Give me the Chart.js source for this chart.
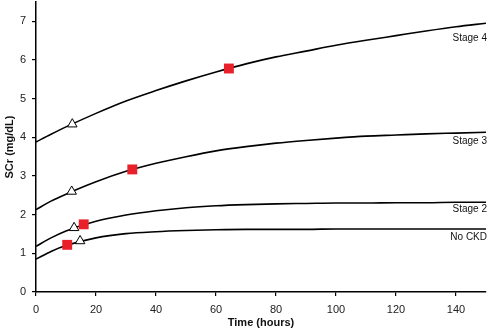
<!DOCTYPE html>
<html><head><meta charset="utf-8">
<script src="https://cdn.jsdelivr.net/npm/chart.js@4/dist/chart.umd.min.js"></script>
<style>html,body{margin:0;padding:0;background:#fff}canvas{display:block}</style>
</head><body>
<canvas id="c" width="492" height="330"></canvas>
<script>
const times = [0,5,10,20,30,40,50,60,70,80,90,100,110,120,130,140,150];
const stage4 = [3.88,4.08,4.27,4.62,4.94,5.21,5.46,5.69,5.90,6.08,6.23,6.38,6.51,6.63,6.75,6.86,6.95];
const stage3 = [2.13,2.35,2.53,2.85,3.12,3.33,3.50,3.65,3.76,3.85,3.92,3.98,4.03,4.06,4.09,4.11,4.13];
const stage2 = [1.18,1.40,1.58,1.83,1.99,2.10,2.18,2.23,2.26,2.28,2.29,2.30,2.30,2.31,2.31,2.32,2.32];
const noCKD  = [0.85,1.05,1.20,1.40,1.51,1.56,1.59,1.61,1.62,1.62,1.62,1.63,1.63,1.63,1.63,1.63,1.63];
const seriesNames = ["Stage 4","Stage 3","Stage 2","No CKD"];
const triangleT = [12.1,11.9,12.7,14.7];
const triangleV = [4.34,2.60,1.66,1.32];
const squareT = [64.3,32.1,15.9,10.4];
const squareV = [5.78,3.17,1.75,1.22];
const labelV = [6.56,3.90,2.14,1.42];
const yTicks = [0,1,2,3,4,5,6,7];
const xTicks = [0,20,40,60,80,100,120,140];

const curves = [stage4, stage3, stage2, noCKD];
const datasets = curves.map((arr,i)=>({
  type:'line', label: seriesNames[i],
  data: times.map((t,j)=>({x:t,y:arr[j]})),
  borderColor:'#000', borderWidth:1.6, pointRadius:0,
  cubicInterpolationMode:'monotone', fill:false, order:2
}));
datasets.push({
  type:'scatter', label:'triangles',
  data: triangleT.map((t,i)=>({x:t,y:triangleV[i]})),
  pointStyle:'triangle', pointRadius:5.5, backgroundColor:'#fff', borderColor:'#000', borderWidth:1, order:1
});
datasets.push({
  type:'scatter', label:'squares',
  data: squareT.map((t,i)=>({x:t,y:squareV[i]})),
  pointStyle:'rect', pointRadius:7, backgroundColor:'#e8202a', borderColor:'#e8202a', borderWidth:0, order:0
});

const labelPlugin = {
  id:'labels',
  afterDatasetsDraw(chart){
    const ctx = chart.ctx, xs = chart.scales.x, ys = chart.scales.y;
    ctx.save();
    ctx.font = '10px "Liberation Sans", Arial, sans-serif';
    ctx.fillStyle = '#111';
    ctx.textAlign = 'right';
    ctx.textBaseline = 'middle';
    seriesNames.forEach((n,i)=>{
      ctx.fillText(n, xs.getPixelForValue(150)+1, ys.getPixelForValue(labelV[i]));
    });
    ctx.restore();
  }
};

new Chart(document.getElementById('c'), {
  data:{datasets},
  options:{
    responsive:false, animation:false,
    layout:{autoPadding:false, padding:{top:2,right:6,left:0,bottom:0}},
    plugins:{legend:{display:false}, tooltip:{enabled:false}},
    scales:{
      x:{type:'linear', min:0, max:150,
        afterBuildTicks(s){ s.ticks = xTicks.map(v=>({value:v})); },
        afterFit(s){ s.height = 38; },
        border:{color:'#000', width:1.5},
        grid:{display:true, drawOnChartArea:false, tickLength:4, color:'#000', lineWidth:1.2},
        ticks:{font:{family:'"Liberation Sans", Arial, sans-serif', size:11}, color:'#222', padding:7, maxRotation:0},
        title:{display:true, text:'Time (hours)', font:{family:'"Liberation Sans", Arial, sans-serif', size:11, weight:'bold'}, color:'#111', padding:{top:0,bottom:0}}
      },
      y:{type:'linear', min:0, max:7.5,
        afterBuildTicks(s){ s.ticks = yTicks.map(v=>({value:v})); },
        afterFit(s){ s.width = 36; s.paddingTop = 0; s.paddingBottom = 0; },
        border:{color:'#000', width:1.5},
        grid:{display:true, drawOnChartArea:false, tickLength:4, color:'#000', lineWidth:1.2},
        ticks:{font:{family:'"Liberation Sans", Arial, sans-serif', size:11}, color:'#222', padding:6},
        title:{display:true, text:'SCr (mg/dL)', font:{family:'"Liberation Sans", Arial, sans-serif', size:11, weight:'bold'}, color:'#111', padding:{top:3,bottom:0}}
      }
    }
  },
  plugins:[labelPlugin]
});
</script>
</body></html>
